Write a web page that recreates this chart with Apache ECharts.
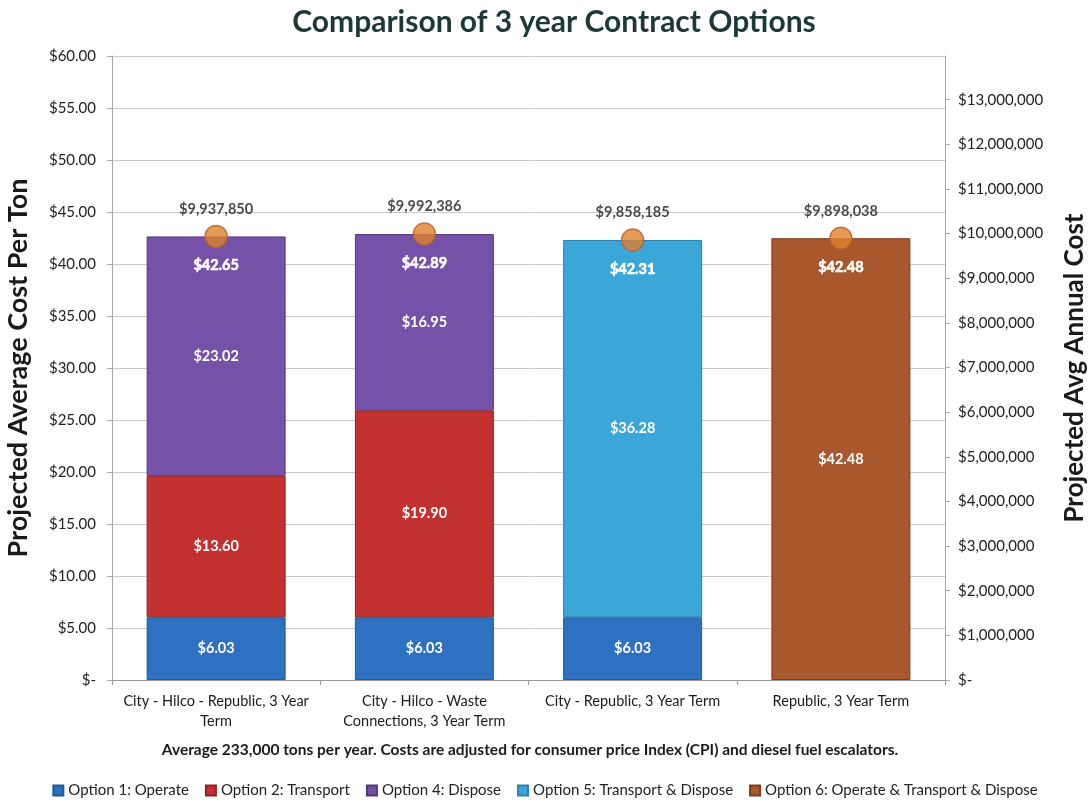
<!DOCTYPE html>
<html><head><meta charset="utf-8">
<script src="https://cdn.jsdelivr.net/npm/echarts@6/dist/echarts.min.js"></script>
<style>html,body{margin:0;padding:0;background:#fff}#c{width:1090px;height:805px}</style>
</head><body><div id="c"></div>
<script>
const categories = ['City - Hilco - Republic, 3 Year\nTerm', 'City - Hilco - Waste\nConnections, 3 Year Term', 'City - Republic, 3 Year Term', 'Republic, 3 Year Term'];
const option1 = [6.03, 6.03, 6.03, null];
const option2 = [13.60, 19.90, null, null];
const option4 = [23.02, 16.95, null, null];
const option5 = [null, null, 36.28, null];
const option6 = [null, null, null, 42.48];
const totals = [42.65, 42.89, 42.31, 42.48];
const annualCost = [9937850, 9992386, 9858185, 9898038];
const seriesNames = ['Option 1: Operate', 'Option 2: Transport', 'Option 4: Dispose', 'Option 5: Transport & Dispose', 'Option 6: Operate & Transport & Dispose'];
const colors = ['#2e71c0', '#c2302f', '#7552a8', '#3ba7d9', '#a9572d'];
const borders = ['#1f5a9a', '#8f2020', '#54387f', '#2a82ad', '#7d3c1c'];
const tonsPerYear = 233000;

const F = 'Lato, "Open Sans", sans-serif';
const chart = echarts.init(document.getElementById('c'));
const barData = [option1, option2, option4, option5, option6];
const barSeries = barData.map((d, i) => ({
  name: seriesNames[i], type: 'bar', stack: 'total', barWidth: 139, data: d,
  itemStyle: { color: colors[i], borderColor: borders[i], borderWidth: 1 },
  label: { show: true, position: 'inside', color: '#fff', fontWeight: 'bold', fontSize: 14.5, fontFamily: F,
    formatter: p => p.value == null ? '' : '$' + Number(p.value).toFixed(2) }
}));
const fmtMoney = v => v === 0 ? '$-' : '$' + v.toLocaleString('en-US');
chart.setOption({
  animation: false,
  title: [
    { text: 'Comparison of 3 year Contract Options', left: 549, textAlign: 'center', top: 2,
      textStyle: { fontSize: 30, fontWeight: 'bold', color: '#1e3838', fontFamily: F } },
    { text: 'Average 233,000 tons per year. Costs are adjusted for consumer price Index (CPI) and diesel fuel escalators.',
      left: 525, textAlign: 'center', top: 737,
      textStyle: { fontSize: 15.5, fontWeight: 'bold', color: '#1a1a1a', fontFamily: F } }
  ],
  legend: {
    data: seriesNames, bottom: 2, left: 'center', icon: 'rect', itemWidth: 10, itemHeight: 10, itemGap: 16,
    textStyle: { fontSize: 15, color: '#222', fontFamily: F }
  },
  grid: { left: 112, right: 145, top: 56, bottom: 125, outerBoundsMode: 'none', containLabel: false },
  xAxis: {
    type: 'category', data: categories,
    axisLine: { lineStyle: { color: '#999' } },
    axisTick: { show: true, length: 5, lineStyle: { color: '#999' } },
    axisLabel: { interval: 0, fontSize: 14.5, color: '#1a1a1a', fontFamily: F, margin: 11, lineHeight: 20 }
  },
  yAxis: [
    { type: 'value', min: 0, max: 60, interval: 5,
      name: 'Projected Average Cost Per Ton', nameLocation: 'middle', nameGap: 80, nameRotate: 90,
      nameTextStyle: { fontSize: 27, fontWeight: 'bold', color: '#1a1a1a', fontFamily: F },
      axisLine: { show: true, lineStyle: { color: '#aaa' } },
      axisTick: { show: true, length: 5, lineStyle: { color: '#aaa' } },
      splitLine: { lineStyle: { color: '#c8c8d0' } },
      axisLabel: { fontSize: 15, color: '#222', fontFamily: F, margin: 16,
        formatter: v => v === 0 ? '$-' : '$' + v.toFixed(2) } },
    { type: 'value', min: 0, max: 60 * tonsPerYear, interval: 1000000, position: 'right',
      name: 'Projected Avg Annual Cost', nameLocation: 'middle', nameGap: 117, nameRotate: 90,
      nameTextStyle: { fontSize: 26, fontWeight: 'bold', color: '#1a1a1a', fontFamily: F },
      axisLine: { show: true, lineStyle: { color: '#aaa' } },
      axisTick: { show: true, length: 5, lineStyle: { color: '#aaa' } },
      splitLine: { show: false },
      axisLabel: { fontSize: 15, color: '#222', fontFamily: F, margin: 13, showMaxLabel: false,
        formatter: v => (v % 1000000 === 0) ? fmtMoney(v) : '' } }
  ],
  series: barSeries.concat([
    { name: 'Total', type: 'scatter', yAxisIndex: 0, data: totals, symbolSize: 1,
      itemStyle: { color: '#ffffff', opacity: 1 }, z: 5,
      label: { show: true, position: 'bottom', distance: 21, color: '#ffffff', opacity: 1, fontWeight: 'bold', fontSize: 14.5, fontFamily: F,
        textBorderWidth: 0.6, textBorderColor: '#ffffff',
        formatter: p => '$' + p.value.toFixed(2) } },
    { name: 'Annual Cost', type: 'scatter', yAxisIndex: 1, data: annualCost, symbol: 'circle', symbolSize: 22, z: 10,
      itemStyle: { color: '#e0812d', borderColor: '#b5622a', borderWidth: 1.5 },
      label: { show: true, position: 'top', distance: 8, color: '#1a1a1a', fontWeight: 'bold', fontSize: 14.5, fontFamily: F,
        formatter: p => fmtMoney(p.value) } }
  ])
});
</script></body></html>
